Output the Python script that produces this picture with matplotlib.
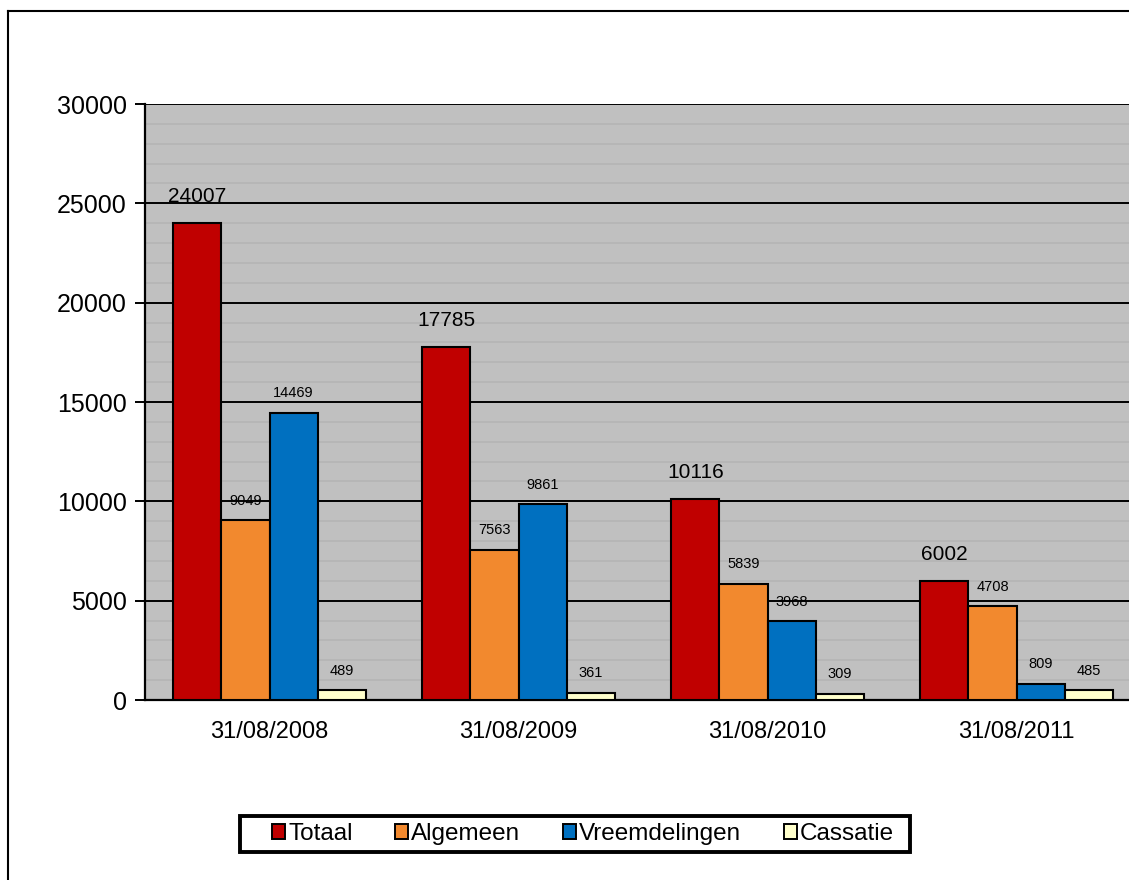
import matplotlib.pyplot as plt
import numpy as np
from matplotlib.lines import Line2D
from matplotlib.patches import Rectangle

plt.rcParams['font.family'] = ['Liberation Sans', 'DejaVu Sans']

categories = ['31/08/2008', '31/08/2009', '31/08/2010', '31/08/2011']
series = ['Totaal', 'Algemeen', 'Vreemdelingen', 'Cassatie']
totaal = [24007, 17785, 10116, 6002]
algemeen = [9049, 7563, 5839, 4708]
vreemdelingen = [14469, 9861, 3968, 809]
cassatie = [489, 361, 309, 485]
colors = ['#C00000', '#F2892E', '#0070C0', '#FFFFCC']

values = [totaal, algemeen, vreemdelingen, cassatie]

W, H = 1129, 880
fig = plt.figure(figsize=(W / 100, H / 100), dpi=100)
ax = fig.add_axes([145 / W, 1 - 700 / H, 996 / W, 596 / H])
ax.set_facecolor('#C0C0C0')

x = np.arange(len(categories))
w = 0.193
for i, (name, vals, c) in enumerate(zip(series, values, colors)):
    pos = x + (i - 1.5) * w
    ax.bar(pos, vals, width=w, color=c, edgecolor='black', linewidth=1.5,
           label=name, zorder=3)
    for p, v in zip(pos, vals):
        if i == 0:
            ax.annotate(str(v), (p, v), xytext=(0, 12), textcoords='offset points',
                        ha='center', va='bottom', fontsize=15)
        else:
            ax.annotate(str(v), (p, v), xytext=(0, 9), textcoords='offset points',
                        ha='center', va='bottom', fontsize=10.5)

ax.set_xlim(-0.5, 3.5)
ax.set_ylim(0, 30000)
ax.set_yticks(np.arange(0, 30001, 5000))
ax.set_yticks(np.arange(0, 30001, 1000), minor=True)
ax.grid(which='minor', axis='y', color='#B6B6B6', linewidth=1.4, zorder=1)
ax.grid(which='major', axis='y', color='black', linewidth=1.4, zorder=2)
ax.tick_params(axis='y', which='major', length=7, width=1.4, labelsize=18, pad=6)
ax.tick_params(axis='y', which='minor', length=0)
ax.set_xticks(x)
ax.set_xticklabels(categories)
ax.tick_params(axis='x', length=0, labelsize=17, pad=15)
for s in ['left', 'bottom']:
    ax.spines[s].set_linewidth(1.6)
ax.spines['top'].set_visible(False)
ax.spines['right'].set_visible(False)

# legend box drawn separately so the entries can sit inside with more side padding
fig.add_artist(Rectangle((240 / W, 1 - 852 / H), 670 / W, 36 / H, transform=fig.transFigure,
                         facecolor='white', edgecolor='black', linewidth=2.8))
leg = fig.legend(loc='center', bbox_to_anchor=(272 / W, 1 - 852 / H, 622 / W, 36 / H),
                 mode='expand', ncol=4,
                 fontsize=17.5, frameon=False,
                 handlelength=0.55, handleheight=0.55, handletextpad=0.12,
                 columnspacing=1.3, borderpad=0.0, borderaxespad=0)
for h in leg.legend_handles:
    h.set_linewidth(1.4)

# outer chart border (left and top only visible)
fig.add_artist(Line2D([8 / W, 8 / W], [0, 1 - 11 / H], color='black', linewidth=1.5))
fig.add_artist(Line2D([8 / W, 1], [1 - 11 / H, 1 - 11 / H], color='black', linewidth=1.5))

fig.savefig('out.png', dpi=100)
